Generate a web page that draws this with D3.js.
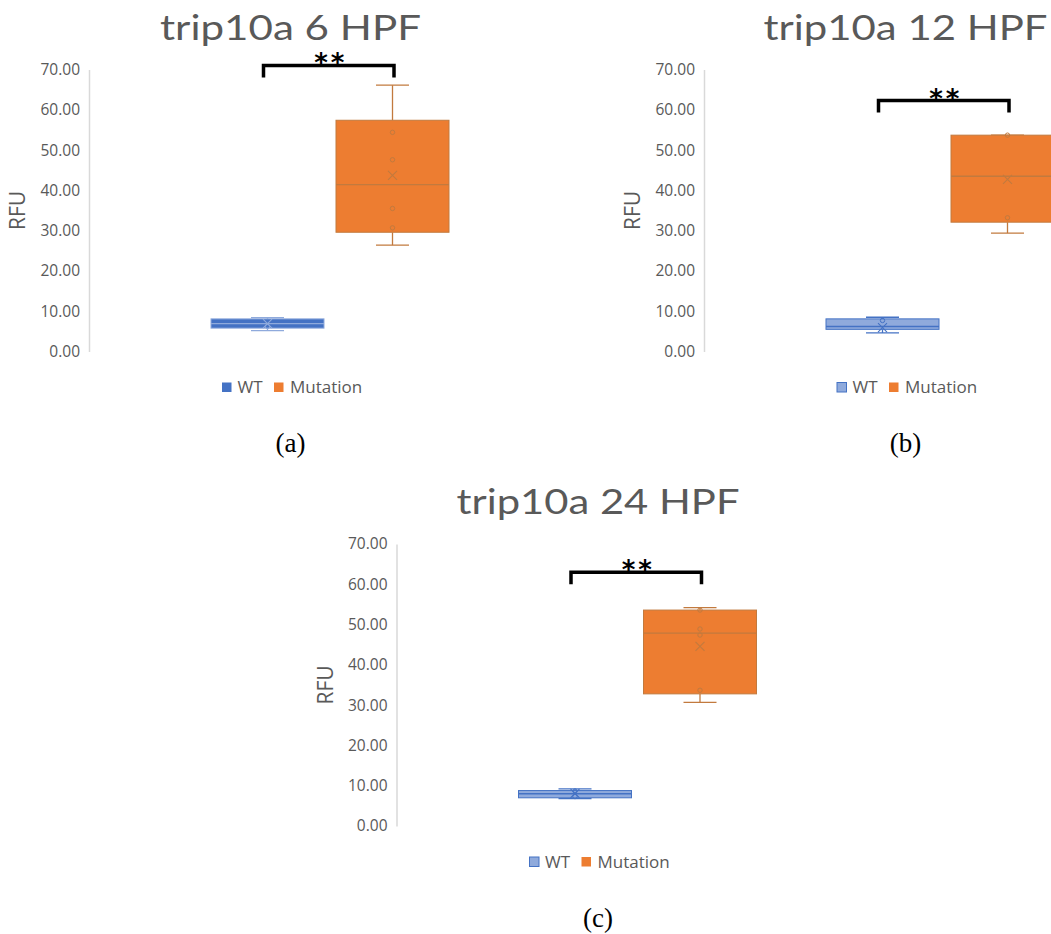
<!DOCTYPE html>
<html>
<head>
<meta charset="utf-8">
<script src="https://cdn.jsdelivr.net/npm/d3@7"></script>
<style>
  html, body { margin: 0; padding: 0; background: #fff; }
  svg { display: block; }
</style>
</head>
<body>
<script>
// ---------------- DATA ----------------
const titles = ["trip10a 6 HPF", "trip10a 12 HPF", "trip10a 24 HPF"];
const captions = ["(a)", "(b)", "(c)"];
const groups = ["WT", "Mutation"];
const yTicks = [0, 10, 20, 30, 40, 50, 60, 70];
const yLabel = "RFU";
// box stats: [min, q1, median, q3, max, mean]
const wt6 = [5.2, 5.8, 6.9, 8.1, 8.4, 6.9];
const mut6 = [26.4, 29.6, 41.4, 57.4, 66.1, 43.7];
const wt12 = [4.6, 5.5, 6.2, 8.1, 8.5, 5.9];
const mut12 = [29.4, 32.1, 43.5, 53.7, 53.7, 42.7];
const wt24 = [6.8, 7.0, 8.0, 8.8, 9.2, 8.1];
const mut24 = [30.7, 32.8, 47.9, 53.6, 54.2, 44.6];
// inner points
const wt6Pts = [6.2];
const mut6Pts = [54.4, 47.6, 35.5, 30.7];
const wt12Pts = [7.7];
const mut12Pts = [53.7, 33.2];
const wt24Pts = [8.7, 7.3];
const mut24Pts = [53.6, 48.9, 47.4, 33.7];
// significance brackets
const sigLevels = [71.0, 62.3, 63.0];
const sigLabels = ["**", "**", "**"];

// ---------------- LAYOUT / STYLE ----------------
const W = 1051, H = 934;
const offsets = [[0, 0], [615, 0], [307.5, 474.5]];
const titleWidths = [261, 284, 283];
const wtStyles = [
  { fill: "#4472C4", stroke: "#8FAADC" },
  { fill: "#8FAADC", stroke: "#4472C4" },
  { fill: "#8FAADC", stroke: "#4472C4" }
];
const mutStyle = { fill: "#ED7D31", stroke: "#C27A3E" };
const panelData = [
  { wt: wt6, mut: mut6, wtP: wt6Pts, mutP: mut6Pts },
  { wt: wt12, mut: mut12, wtP: wt12Pts, mutP: mut12Pts },
  { wt: wt24, mut: mut24, wtP: wt24Pts, mutP: mut24Pts }
];

const svg = d3.select("body").append("svg").attr("width", W).attr("height", H);

const y = d3.scaleLinear().domain([0, 70]).range([351.5, 69.5]);
const x = d3.scalePoint().domain(groups).range([267.5, 392.5]);
const axisX = 89;
const boxW = 113, capW = 33;
const sans = "'Open Sans', 'Noto Sans', sans-serif";

panelData.forEach((pd, i) => {
  const g = svg.append("g").attr("transform", `translate(${offsets[i][0]},${offsets[i][1]})`);

  // title
  g.append("text")
    .attr("x", 290.5).attr("y", 39.5)
    .attr("text-anchor", "middle")
    .attr("font-family", "Lato, 'Open Sans', sans-serif").attr("font-size", 35)
    .attr("fill", "#595959")
    .attr("textLength", titleWidths[i]).attr("lengthAdjust", "spacingAndGlyphs")
    .text(titles[i]);

  // y axis
  const ax = g.append("g").attr("transform", `translate(${axisX},0)`)
    .call(d3.axisLeft(y).tickValues(yTicks).tickFormat(d3.format(".2f")).tickSize(0).tickPadding(9));
  ax.select(".domain").attr("stroke", "#D9D9D9").attr("stroke-width", 1.5);
  ax.selectAll("text").attr("font-family", sans).attr("font-size", 15.5).attr("fill", "#595959");

  // y label
  g.append("text")
    .attr("transform", "translate(25,210.5) rotate(-90)")
    .attr("text-anchor", "middle")
    .attr("font-family", sans).attr("font-size", 21)
    .attr("fill", "#595959")
    .text(yLabel);

  // boxes
  const series = [
    { key: "WT", s: pd.wt, pts: pd.wtP, st: wtStyles[i] },
    { key: "Mutation", s: pd.mut, pts: pd.mutP, st: mutStyle }
  ];
  series.forEach(sr => {
    const cx = x(sr.key);
    const [mn, q1, md, q3, mx, mean] = sr.s;
    const bg = g.append("g");
    // whiskers
    bg.append("line").attr("x1", cx).attr("x2", cx).attr("y1", y(q3)).attr("y2", y(mx))
      .attr("stroke", sr.st.stroke).attr("stroke-width", 1.3);
    bg.append("line").attr("x1", cx).attr("x2", cx).attr("y1", y(q1)).attr("y2", y(mn))
      .attr("stroke", sr.st.stroke).attr("stroke-width", 1.3);
    bg.append("line").attr("x1", cx - capW / 2).attr("x2", cx + capW / 2).attr("y1", y(mx)).attr("y2", y(mx))
      .attr("stroke", sr.st.stroke).attr("stroke-width", 1.3);
    bg.append("line").attr("x1", cx - capW / 2).attr("x2", cx + capW / 2).attr("y1", y(mn)).attr("y2", y(mn))
      .attr("stroke", sr.st.stroke).attr("stroke-width", 1.3);
    // box
    bg.append("rect").attr("x", cx - boxW / 2).attr("width", boxW)
      .attr("y", y(q3)).attr("height", y(q1) - y(q3))
      .attr("fill", sr.st.fill).attr("stroke", sr.st.stroke).attr("stroke-width", 1);
    // median
    bg.append("line").attr("x1", cx - boxW / 2).attr("x2", cx + boxW / 2).attr("y1", y(md)).attr("y2", y(md))
      .attr("stroke", sr.st.stroke).attr("stroke-width", 1.3);
    // points
    bg.selectAll("circle.pt").data(sr.pts).enter().append("circle")
      .attr("cx", cx).attr("cy", d => y(d)).attr("r", 2.2)
      .attr("fill", "none").attr("stroke", sr.st.stroke).attr("stroke-width", 1);
    // mean x
    const ym = y(mean), m = 4.5;
    bg.append("path").attr("d", `M${cx - m},${ym - m}L${cx + m},${ym + m}M${cx - m},${ym + m}L${cx + m},${ym - m}`)
      .attr("stroke", sr.st.stroke).attr("stroke-width", 1.1).attr("fill", "none");
  });

  // significance bracket
  const bx1 = x("WT") - 4, bx2 = x("Mutation") + 1.5;
  const bt = y(sigLevels[i]), bb = y(sigLevels[i] - 3);
  g.append("path").attr("d", `M${bx1},${bb}V${bt}H${bx2}V${bb}`)
    .attr("fill", "none").attr("stroke", "#000").attr("stroke-width", 3.5);
  g.append("text")
    .attr("x", (bx1 + bx2) / 2 + 2).attr("y", bt + 7)
    .attr("text-anchor", "middle")
    .attr("font-family", "'DejaVu Sans', sans-serif").attr("font-weight", "bold").attr("font-size", 26)
    .attr("letter-spacing", 3)
    .attr("fill", "#000")
    .text(sigLabels[i]);

  // legend
  const lg = g.append("g");
  const legendColors = [wtStyles[i], mutStyle];
  const lx = [222, 274], tx = [237.5, 290];
  groups.forEach((k, j) => {
    lg.append("rect").attr("x", lx[j]).attr("y", 382.5).attr("width", 9.5).attr("height", 9.5)
      .attr("fill", legendColors[j].fill)
      .attr("stroke", j === 0 && i > 0 ? "#4472C4" : "none").attr("stroke-width", 1);
    lg.append("text").attr("x", tx[j]).attr("y", 393)
      .attr("font-family", sans).attr("font-size", 17).attr("fill", "#595959")
      .text(k);
  });

  // caption
  g.append("text")
    .attr("x", 290.5).attr("y", 452)
    .attr("text-anchor", "middle")
    .attr("font-family", "'Liberation Serif', 'DejaVu Serif', serif").attr("font-size", 27)
    .attr("fill", "#000")
    .text(captions[i]);
});
</script>
</body>
</html>
